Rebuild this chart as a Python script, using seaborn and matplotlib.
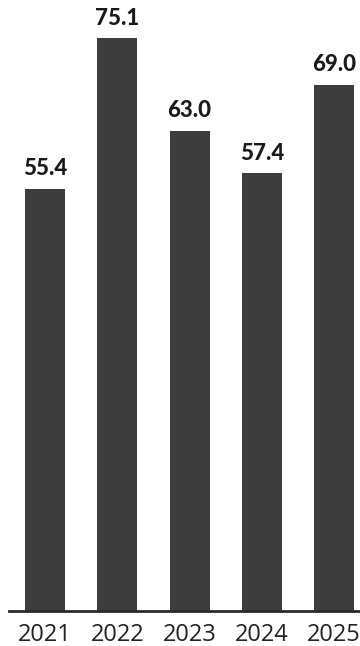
import matplotlib
matplotlib.use("Agg")
import matplotlib.pyplot as plt
import seaborn as sns
import pandas as pd

years = ["2021", "2022", "2023", "2024", "2025"]
values = [55.4, 75.1, 63.0, 57.4, 69.0]

sns.set_theme(style="white")
plt.rcParams["font.family"] = ["Open Sans", "DejaVu Sans"]

df = pd.DataFrame({"year": years, "value": values})

fig = plt.figure(figsize=(3.6, 6.46), dpi=100)
ax = fig.add_axes([0.025, 1 - 610.5 / 646, 0.975, 610.5 / 646])

bar_color = "#3d3d3d"
sns.barplot(data=df, x="year", y="value", color=bar_color, width=0.553,
            saturation=1, ax=ax, edgecolor="none")

ax.set_xlim(-0.5, 4.36)
ax.set_ylim(0, 80.15)

for i, v in enumerate(values):
    ax.annotate(f"{v:.1f}", xy=(i, v), xytext=(0, 7), textcoords="offset points",
                ha="center", va="bottom", fontsize=16, fontweight="black",
                family=["Lato", "DejaVu Sans"], color="#1a1a1a")

for s in ["top", "right", "left"]:
    ax.spines[s].set_visible(False)
ax.spines["bottom"].set_color("#2a2a2a")
ax.spines["bottom"].set_linewidth(2)
ax.set_yticks([])
ax.set_xlabel("")
ax.set_ylabel("")
ax.tick_params(axis="x", length=0, pad=9, labelsize=17, labelcolor="#222222")

fig.savefig("out.png", dpi=100)
